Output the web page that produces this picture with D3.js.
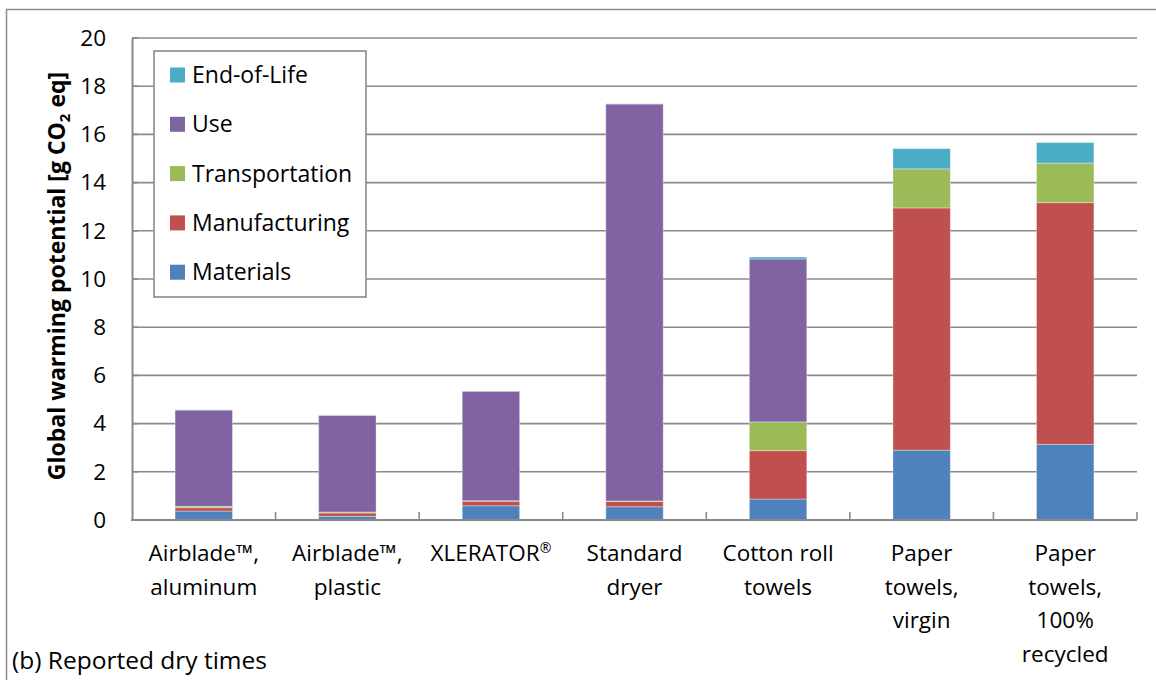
<!DOCTYPE html>
<html>
<head>
<meta charset="utf-8">
<script src="https://cdn.jsdelivr.net/npm/d3@7"></script>
<style>
  body { margin: 0; background: #fff; }
  svg text { font-family: "Open Sans", Lato, sans-serif; fill: #000; }
</style>
</head>
<body>
<svg id="chart" width="1156" height="680"></svg>
<script>
// categories, one label line per array entry
var categories = [
  ["Airblade\u2122,", "aluminum"],
  ["Airblade\u2122,", "plastic"],
  ["XLERATOR\u00ae"],
  ["Standard", "dryer"],
  ["Cotton roll", "towels"],
  ["Paper", "towels,", "virgin"],
  ["Paper", "towels,", "100%", "recycled"]
];

var stages = ["Materials", "Manufacturing", "Transportation", "Use", "End-of-Life"];

// g CO2 eq per stage
var materials      = [0.37, 0.15, 0.59, 0.55, 0.87, 2.90, 3.14];
var manufacturing  = [0.14, 0.14, 0.19, 0.22, 2.01, 10.05, 10.03];
var transportation = [0.06, 0.04, 0.02, 0.02, 1.19, 1.62, 1.64];
var use            = [3.99, 4.01, 4.54, 16.47, 6.76, 0.00, 0.00];
var endOfLife      = [0.01, 0.01, 0.01, 0.01, 0.08, 0.84, 0.85];

var yTicks = [0, 2, 4, 6, 8, 10, 12, 14, 16, 18, 20];

var colors = {
  "Materials": "#4f81bd",
  "Manufacturing": "#c0504d",
  "Transportation": "#9bbb59",
  "Use": "#8064a2",
  "End-of-Life": "#4bacc6"
};

var seriesValues = {
  "Materials": materials,
  "Manufacturing": manufacturing,
  "Transportation": transportation,
  "Use": use,
  "End-of-Life": endOfLife
};

var labelSize = "22.5px";

var svg = d3.select("#chart");

// outer chart frame
svg.append("rect")
  .attr("x", 6.5).attr("y", 9.5)
  .attr("width", 1170).attr("height", 700)
  .attr("fill", "none")
  .attr("stroke", "#8c8c8c")
  .attr("stroke-width", 1.5);

var plot = { left: 132, right: 1137, top: 38, bottom: 520 };

var x = d3.scaleBand()
  .domain(d3.range(categories.length))
  .range([plot.left, plot.right])
  .paddingInner(0.6)
  .paddingOuter(0.3);

var y = d3.scaleLinear()
  .domain([0, 20])
  .range([plot.bottom, plot.top]);

// gridlines
svg.append("g")
  .selectAll("line")
  .data(yTicks.slice(1))
  .enter().append("line")
  .attr("x1", plot.left).attr("x2", plot.right)
  .attr("y1", function(d) { return y(d); })
  .attr("y2", function(d) { return y(d); })
  .attr("stroke", "#8a8a8a")
  .attr("stroke-width", 1.6);

// stacked bars
var table = categories.map(function(c, i) {
  var row = { index: i };
  stages.forEach(function(s) { row[s] = seriesValues[s][i]; });
  return row;
});

var stacked = d3.stack().keys(stages)(table);

svg.append("g")
  .selectAll("g")
  .data(stacked)
  .enter().append("g")
  .attr("fill", function(d) { return colors[d.key]; })
  .selectAll("rect")
  .data(function(d) { return d; })
  .enter().append("rect")
  .attr("x", function(d) { return x(d.data.index); })
  .attr("width", x.bandwidth())
  .attr("y", function(d) { return y(d[1]); })
  .attr("height", function(d) { return Math.max(0, y(d[0]) - y(d[1])); })
  .attr("stroke", "#ffffff")
  .attr("stroke-opacity", 0.35)
  .attr("stroke-width", 1);

// y axis
var yAxis = d3.axisLeft(y)
  .tickValues(yTicks)
  .tickSize(0)
  .tickPadding(26);

var yg = svg.append("g")
  .attr("transform", "translate(" + plot.left + ",0)")
  .call(yAxis);
yg.select(".domain").attr("stroke", "#8a8a8a").attr("stroke-width", 2);
yg.selectAll("text")
  .style("font-size", labelSize)
  .style("font-family", "'Open Sans', sans-serif");

// small inner ticks on the y axis
svg.append("g")
  .selectAll("line")
  .data(yTicks)
  .enter().append("line")
  .attr("x1", plot.left).attr("x2", plot.left + 6)
  .attr("y1", function(d) { return y(d); })
  .attr("y2", function(d) { return y(d); })
  .attr("stroke", "#8a8a8a")
  .attr("stroke-width", 1.6);

// x axis line and category boundary ticks
svg.append("line")
  .attr("x1", plot.left - 1).attr("x2", plot.right)
  .attr("y1", plot.bottom).attr("y2", plot.bottom)
  .attr("stroke", "#8a8a8a")
  .attr("stroke-width", 2);

svg.append("g")
  .selectAll("line")
  .data(d3.range(1, categories.length + 1))
  .enter().append("line")
  .attr("x1", function(d) { return plot.left + d * x.step(); })
  .attr("x2", function(d) { return plot.left + d * x.step(); })
  .attr("y1", plot.bottom - 8).attr("y2", plot.bottom)
  .attr("stroke", "#8a8a8a")
  .attr("stroke-width", 1.6);

// category labels
var labels = svg.append("g")
  .selectAll("text")
  .data(categories)
  .enter().append("text")
  .attr("text-anchor", "middle")
  .style("font-size", labelSize);

labels.each(function(lines, i) {
  var t = d3.select(this);
  lines.forEach(function(line, j) {
    var ts = t.append("tspan")
      .attr("x", x(i) + x.bandwidth() / 2)
      .attr("y", 561 + j * 33.5);
    // the registered mark sits small and raised
    if (line.slice(-1) === "\u00ae") {
      ts.text(line.slice(0, -1));
      t.append("tspan")
        .attr("dy", -8)
        .style("font-size", "14px")
        .text("\u00ae");
    } else {
      ts.text(line);
    }
  });
});

// y axis title with subscript
var yTitle = svg.append("text")
  .attr("transform", "translate(65," + 276 + ") rotate(-90)")
  .attr("text-anchor", "middle")
  .style("font-size", "23px")
  .style("font-weight", "bold");
yTitle.append("tspan").text("Global warming potential [g CO");
yTitle.append("tspan").attr("dy", 5).style("font-size", "15px").text("2");
yTitle.append("tspan").attr("dy", -5).text(" eq]");

// legend
var legend = svg.append("g").attr("transform", "translate(154,51)");
legend.append("rect")
  .attr("width", 212).attr("height", 246)
  .attr("fill", "#fff")
  .attr("stroke", "#8a8a8a")
  .attr("stroke-width", 1.6);

var legendOrder = stages.slice().reverse();
var item = legend.selectAll("g.item")
  .data(legendOrder)
  .enter().append("g")
  .attr("class", "item")
  .attr("transform", function(d, i) { return "translate(16," + (24 + i * 49.3) + ")"; });

item.append("rect")
  .attr("x", 0).attr("y", -7.5)
  .attr("width", 15).attr("height", 15)
  .attr("fill", function(d) { return colors[d]; });

item.append("text")
  .attr("x", 22).attr("y", 8)
  .style("font-size", "23px")
  .text(function(d) { return d; });

// panel caption
svg.append("text")
  .attr("x", 12).attr("y", 669)
  .style("font-size", "24.5px")
  .text("(b) Reported dry times");
</script>
</body>
</html>
